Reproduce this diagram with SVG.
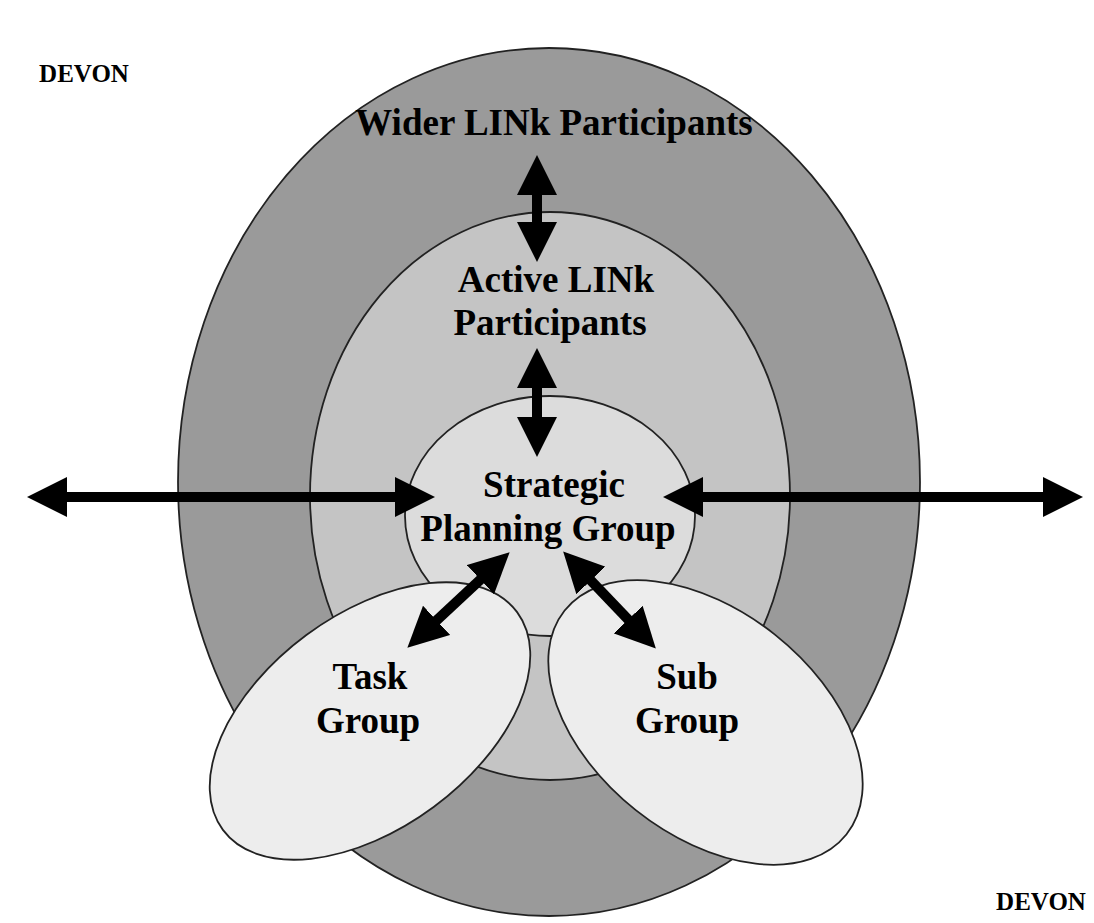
<svg xmlns="http://www.w3.org/2000/svg" width="1094" height="923" viewBox="0 0 1094 923">
<style>
.t{font-family:"Liberation Serif","Times New Roman",serif;font-weight:bold;fill:#000;text-anchor:middle}
.big{font-size:37px}
.dv{font-size:25px}
.sh{stroke:#222;stroke-width:1.8}
.ar{stroke:#000;stroke-width:10;fill:none;marker-start:url(#ah);marker-end:url(#ah)}
</style>
<defs>
<marker id="ah" markerUnits="userSpaceOnUse" markerWidth="40" markerHeight="40" refX="20" refY="20" orient="auto-start-reverse">
<path d="M0,0 L40,20 L0,40 Z" fill="#000"/>
</marker>
</defs>
<rect width="1094" height="923" fill="#fff"/>
<g id="wider">
<ellipse class="sh" cx="549" cy="482" rx="371" ry="434" fill="#9a9a9a"/>
<text class="t big" x="554" y="135">Wider LINk Participants</text>
</g>
<g id="active">
<ellipse class="sh" cx="550" cy="496" rx="240" ry="284" fill="#c4c4c4"/>
<text class="t big" x="556" y="292">Active LINk</text>
<text class="t big" x="550" y="335">Participants</text>
</g>
<g id="strategic">
<ellipse class="sh" cx="550" cy="516" rx="145" ry="120" fill="#dcdcdc"/>
<text class="t big" x="554" y="497">Strategic</text>
<text class="t big" x="548" y="541">Planning Group</text>
</g>
<g id="task">
<ellipse class="sh" cx="370" cy="721" rx="183" ry="107" transform="rotate(-36.5 370 721)" fill="#ededed"/>
<text class="t big" x="370" y="689">Task</text>
<text class="t big" x="368" y="733">Group</text>
</g>
<g id="sub">
<ellipse class="sh" cx="705.5" cy="722.5" rx="180" ry="112" transform="rotate(38.5 705.5 722.5)" fill="#ededed"/>
<text class="t big" x="687" y="689">Sub</text>
<text class="t big" x="687" y="733">Group</text>
</g>
<g id="labels">
<text class="t dv" x="84" y="82">DEVON</text>
<text class="t dv" x="1041" y="910">DEVON</text>
</g>
<g id="connectors">
<line class="ar" x1="537" y1="175" x2="537" y2="242"/>
<line class="ar" x1="537" y1="368" x2="537" y2="437"/>
<line class="ar" x1="47" y1="497" x2="415" y2="497"/>
<line class="ar" x1="683" y1="497" x2="1063" y2="497"/>
<line class="ar" x1="495" y1="566" x2="422" y2="634"/>
<line class="ar" x1="577" y1="566" x2="642" y2="634"/>
</g>
</svg>
